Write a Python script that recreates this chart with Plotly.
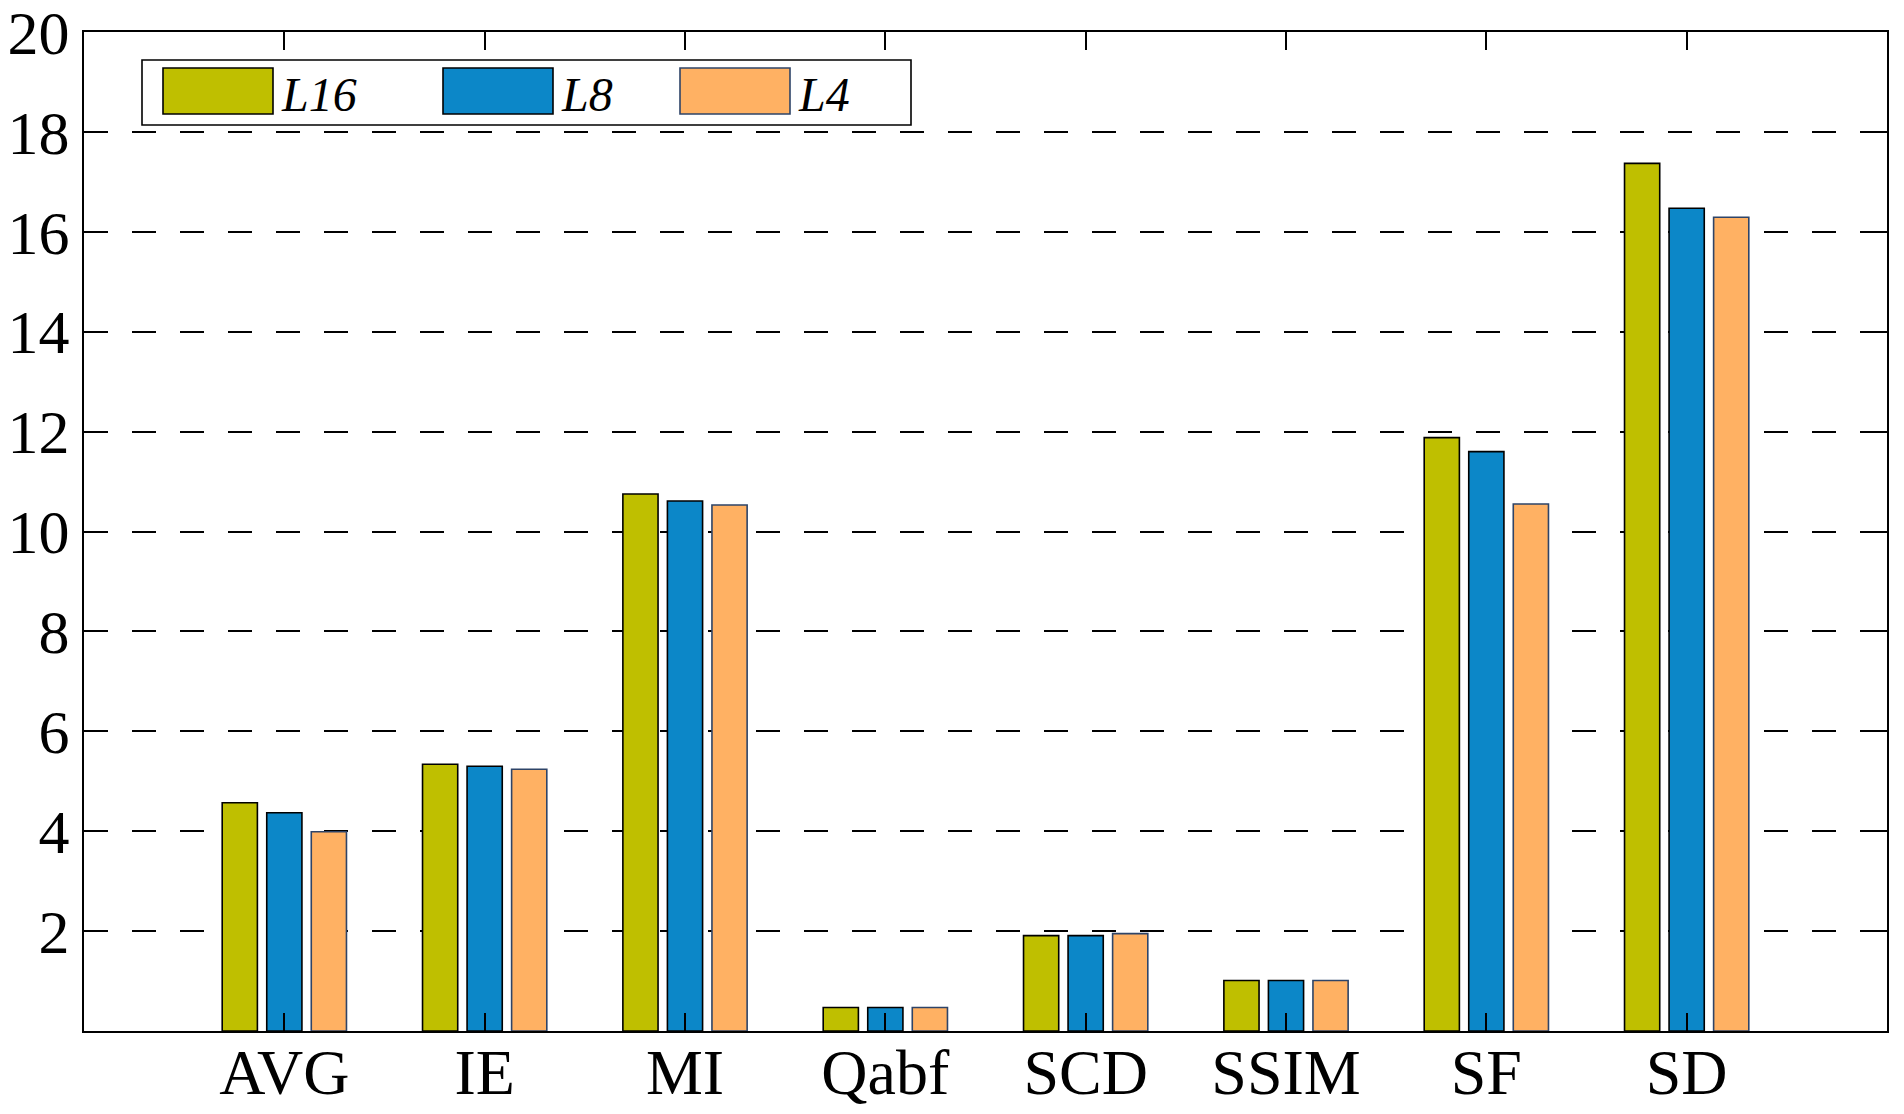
import plotly.graph_objects as go

categories = ["AVG", "IE", "MI", "Qabf", "SCD", "SSIM", "SF", "SD"]
series_names = ["L16", "L8", "L4"]
l16_values = [4.57, 5.34, 10.75, 0.47, 1.91, 1.01, 11.88, 17.37]
l8_values = [4.37, 5.30, 10.61, 0.47, 1.91, 1.01, 11.60, 16.47]
l4_values = [3.99, 5.24, 10.53, 0.47, 1.95, 1.01, 10.55, 16.29]
series_values = [l16_values, l8_values, l4_values]
fill_colors = ["#BFBF00", "#0C87C8", "#FFB163"]
edge_colors = ["#000000", "#000000", "#2E4468"]
y_ticks = [2, 4, 6, 8, 10, 12, 14, 16, 18, 20]

# page body has an 8px default margin; compensate so the plot lands where the reference has it
OFF = 8
W, H = 1904 - OFF, 1114 - OFF
L, R, T, B = 84 - OFF, 17, 32 - OFF, 83
PW, PH = W - L - R, H - T - B

FONT = "Liberation Serif"

fig = go.Figure()
for name, vals, fc, ec in zip(series_names, series_values, fill_colors, edge_colors):
    fig.add_trace(go.Bar(
        x=categories, y=vals, name=name,
        marker=dict(color=fc, line=dict(color=ec, width=1.6)),
        showlegend=False,
    ))

# custom legend (large swatches like the reference); positions in reference-page pixels
def px_x(p):
    return (p - OFF - L) / PW

def px_y(p):
    return (H + OFF - B - p) / PH

shapes = []
annotations = []
shapes.append(dict(type="rect", xref="paper", yref="paper",
                   x0=px_x(142), x1=px_x(911), y0=px_y(125), y1=px_y(60),
                   line=dict(color="black", width=1.6), fillcolor="white", layer="above"))
sw_left = [163, 443, 680]
for name, fc, ec, sx in zip(series_names, fill_colors, edge_colors, sw_left):
    shapes.append(dict(type="rect", xref="paper", yref="paper",
                       x0=px_x(sx), x1=px_x(sx + 110), y0=px_y(114), y1=px_y(68),
                       line=dict(color=ec, width=1.6), fillcolor=fc, layer="above"))
    annotations.append(dict(xref="paper", yref="paper", x=px_x(sx + 116), y=px_y(94),
                            xanchor="left", yanchor="middle", showarrow=False,
                            text="<i>" + name + "</i>",
                            font=dict(family=FONT, size=48, color="black")))

fig.update_layout(
    width=W, height=H,
    margin=dict(l=L, r=R, t=T, b=B, pad=0, autoexpand=False),
    paper_bgcolor="white", plot_bgcolor="white",
    barmode="group", bargap=0.333, bargroupgap=0.21,
    shapes=shapes, annotations=annotations,
    font=dict(family=FONT, size=60, color="black"),
)
fig.update_xaxes(
    range=[-1, 8], type="category", automargin=False,
    showline=True, linecolor="black", linewidth=2, mirror="ticks",
    ticks="inside", ticklen=18, tickwidth=1.5, tickcolor="black",
    showgrid=False, ticklabelstandoff=-16,
    tickfont=dict(family=FONT, size=64, color="black"),
)
fig.update_yaxes(
    range=[0, 20], tickvals=y_ticks, automargin=False,
    showline=True, linecolor="black", linewidth=2, mirror="ticks",
    ticks="inside", ticklen=18, tickwidth=1.5, tickcolor="black",
    showgrid=True, gridcolor="black", gridwidth=1.5, griddash="24px,24px",
    zeroline=False, ticklabeloverflow="allow",
    tickfont=dict(family=FONT, size=62, color="black"),
)

fig.write_html("out.html")
